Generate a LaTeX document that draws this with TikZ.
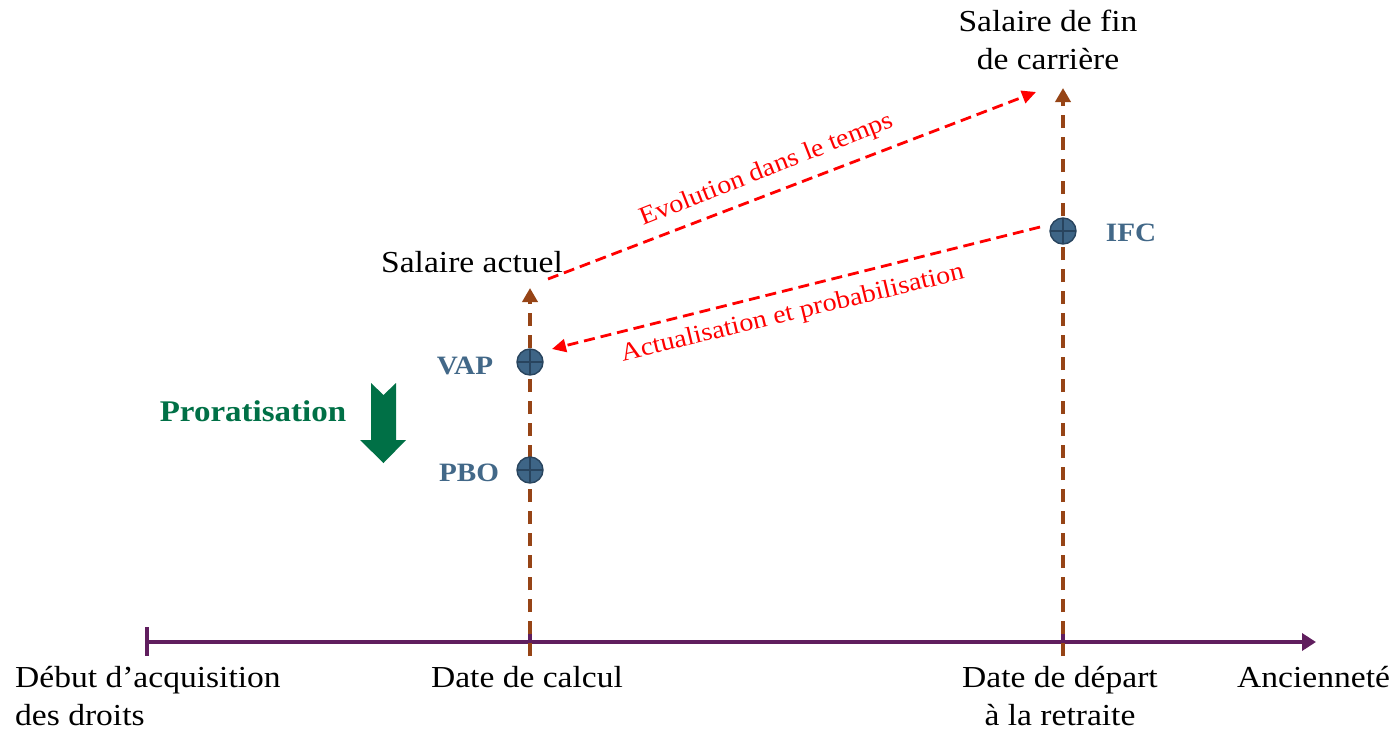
\documentclass[tikz,border=0pt]{standalone}
\usepackage{fontspec}
\setmainfont[FakeStretch=1.1]{Liberation Serif}
\usetikzlibrary{arrows.meta}
\definecolor{axiscol}{RGB}{96,30,94}
\definecolor{stemcol}{RGB}{150,68,22}
\definecolor{dotfill}{RGB}{62,101,134}
\definecolor{dotline}{RGB}{40,68,94}
\definecolor{keycol}{RGB}{66,104,136}
\definecolor{prorata}{RGB}{0,112,70}
\tikzset{
  axisline/.style={draw=axiscol, line width=3.5pt},
  tick/.style={draw=axiscol, line width=3.5pt},
  stem/.style={draw=stemcol, line width=3.5pt, dash pattern=on 13pt off 9pt,
    -{Triangle[length=14pt,width=15pt]}},
  flow/.style={draw=red, line width=2.8pt, dash pattern=on 11pt off 6pt,
    -{Triangle[length=14pt,width=13pt]}},
  flowlabel/.style={text=red, font=\fontsize{25.5}{30}\selectfont, anchor=base, inner sep=0pt},
  lbl/.style={font=\fontsize{30.5}{38}\selectfont, inner sep=0pt, align=center},
  keylbl/.style={text=keycol, font=\fontsize{26.5}{30}\selectfont\bfseries, anchor=base, inner sep=0pt},
  dot/.style={circle, minimum size=26pt, inner sep=0pt, fill=dotfill, draw=dotline, line width=1.4pt,
    path picture={\draw[dotline, line width=1.6pt]
      (path picture bounding box.north) -- (path picture bounding box.south)
      (path picture bounding box.west) -- (path picture bounding box.east);}},
}
\begin{document}
\begin{tikzpicture}[x=1pt, y=-1pt]
\useasboundingbox (0,0) rectangle (1395,729);

% time axis
\coordinate (ax0) at (147,642);
\coordinate (ax1) at (1316,642);
\coordinate (tcalc) at (530,642);
\coordinate (tret) at (1063,642);
\draw[axisline, -{Triangle[length=14pt,width=17pt]}] (ax0) -- (ax1);
\draw[tick] (147,627) -- (147,656);
\draw[tick] (530,627) -- (530,656);
\draw[tick] (1063,627) -- (1063,656);

% salary stems
\coordinate (topcalc) at (530,288);
\coordinate (topret) at (1063,88);
\draw[stem] ([yshift=-14pt]tcalc) -- (topcalc);
\draw[stem] ([yshift=-14pt]tret) -- (topret);

% valuation points
\node[dot] (vap) at (530,362) {};
\node[dot] (pbo) at (530,470) {};
\node[dot] (ifc) at (1063,231) {};
\node[keylbl] (vapl) at (465,374) {VAP};
\node[keylbl] (pbol) at (469,481) {PBO};
\node[keylbl] (ifcl) at (1131,241) {IFC};

% projection and discounting
\coordinate (evs) at (548,279);
\coordinate (eve) at (1036,92);
\coordinate (acs) at (1040,227);
\coordinate (ace) at (552,349);
\draw[flow] (evs) -- (eve);
\draw[flow] (acs) -- (ace);
\node[flowlabel, rotate=21.6] (evl) at (769,176) {Evolution dans le temps};
\node[flowlabel, rotate=13.6] (acl) at (794,320) {Actualisation et probabilisation};

% pro-rating
\node[text=prorata, font=\fontsize{30}{30}\selectfont\bfseries, anchor=base, inner sep=0pt]
  (pror) at (253,421) {Proratisation};
\fill[prorata] (371,383) -- (383.5,395) -- (396,383) -- (396,440) -- (406,440)
  -- (383.5,463) -- (360,440) -- (371,440) -- cycle;

% salary labels (multi-line nodes sit on their last baseline)
\node[lbl, anchor=base] (sact) at (472,272) {Salaire actuel};
\node[lbl, anchor=base] (sfin) at (1048,69) {Salaire de fin\\de carrière};

% axis labels
\node[lbl, anchor=base west, align=left] (deb) at (15,725) {Début d’acquisition\\des droits};
\node[lbl, anchor=base] (dcal) at (527,687) {Date de calcul};
\node[lbl, anchor=base] (dret) at (1060,725) {Date de départ\\à la retraite};
\node[lbl, anchor=base west] (anc) at (1237,687) {Ancienneté};
\end{tikzpicture}
\end{document}
